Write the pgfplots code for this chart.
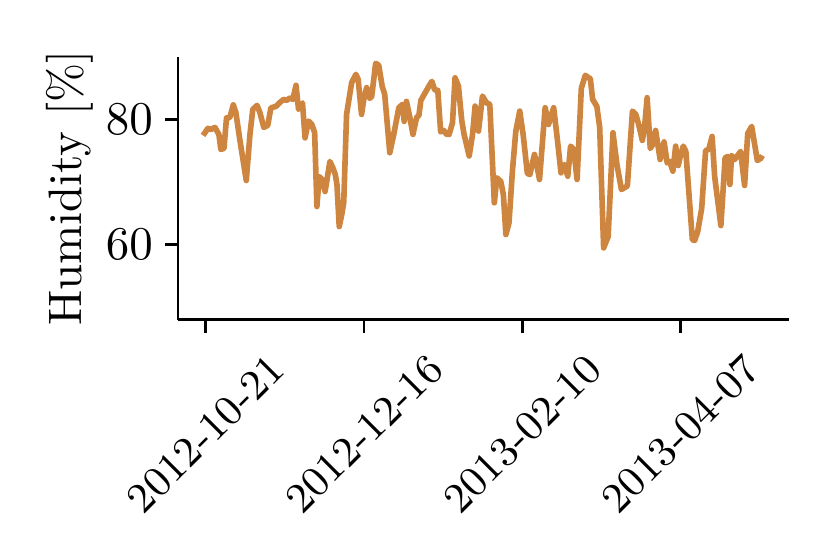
\documentclass[border=0pt]{standalone}
\usepackage{pgfplots}
\pgfplotsset{compat=1.18}
\definecolor{peru}{RGB}{205,133,63}
\begin{document}
\begin{tikzpicture}
\useasboundingbox (-37.9pt,-49.8pt) rectangle (138.9pt,68.1pt);
\begin{axis}[
  at={(0,0)}, anchor=south west, scale only axis,
  width=130.1pt, height=56pt,
  xmin=-9.9, xmax=206.3, ymin=48, ymax=90,
  axis x line*=bottom, axis y line*=left,
  axis line style={line width=0.6pt, -},
  tick align=outside, major tick length=2.8pt,
  tick style={line width=0.6pt, black},
  xtick={0,56,112,168},
  xticklabels={2012-10-21,2012-12-16,2013-02-10,2013-04-07},
  ytick={60,80},
  xticklabel style={font=\fontsize{9}{10}\selectfont, yshift=-21.5pt, rotate=45, anchor=center},
  yticklabel style={xshift=1pt},
  ylabel={Humidity [\%]},
  ylabel style={at={(axis description cs:-0.177,0.5)}, anchor=center},
  clip=false,
]
\addplot[peru, line width=1.2pt, line join=round] coordinates {
(-1.0,77.44) (0.7,78.56) (1.8,78.40) (3.2,78.72) (4.6,77.60) (5.3,75.20) (6.4,75.36)
(7.3,80.24) (8.5,80.32) (9.7,82.32) (10.6,81.12) (12.0,76.80) (14.3,70.24) (15.6,77.60)
(16.6,81.60) (18.1,82.24) (19.1,81.12) (20.5,78.72) (21.9,79.04) (23.0,81.84) (24.8,82.08)
(26.2,82.72) (27.6,83.20) (28.7,83.04) (29.7,83.44) (30.8,83.20) (31.9,85.44) (32.8,81.60)
(34.2,82.64) (35.1,77.04) (36.3,79.73) (37.5,79.20) (38.5,77.87) (39.3,66.08) (40.1,70.88)
(41.1,70.40) (42.2,68.48) (43.9,73.28) (44.9,72.32) (45.8,71.20) (46.4,69.60) (47.2,62.88)
(48.1,64.80) (48.8,66.72) (49.8,80.80) (51.6,85.87) (53.1,87.20) (53.9,86.40) (55.1,80.80)
(55.9,83.20) (56.9,85.07) (58.0,83.36) (58.7,83.68) (60.1,88.96) (61.2,88.64) (62.4,85.28)
(63.3,84.00) (65.1,74.67) (66.5,77.60) (68.3,81.87) (69.6,82.40) (70.2,79.68) (71.0,82.88)
(72.2,80.32) (73.3,77.60) (74.6,80.32) (75.4,80.64) (76.1,83.04) (77.9,84.48) (78.9,85.28)
(80.0,86.08) (81.0,84.72) (82.1,84.64) (83.1,78.00) (84.2,78.24) (85.2,77.60) (86.1,77.60)
(87.3,79.47) (88.2,86.64) (89.4,85.33) (90.6,79.73) (91.4,77.60) (93.2,74.16) (94.4,77.60)
(95.3,82.13) (96.5,78.13) (97.9,83.73) (99.3,82.67) (100.5,82.40) (102.1,66.67) (103.0,70.67)
(104.4,70.08) (105.3,68.00) (106.2,61.60) (107.3,63.47) (108.5,71.68) (109.7,78.08) (111.1,81.33)
(112.3,77.60) (113.8,71.36) (114.7,71.20) (116.3,74.40) (117.1,72.80) (118.1,70.40) (120.1,81.87)
(121.3,79.20) (123.1,81.87) (124.3,77.28) (125.7,71.47) (126.9,72.80) (128.1,70.93) (129.1,75.73)
(130.2,75.20) (131.4,70.40) (132.9,84.96) (134.3,87.04) (136.1,86.48) (136.9,83.20) (138.4,82.08)
(139.4,78.72) (140.8,59.47) (142.4,61.28) (144.1,77.87) (145.5,72.80) (147.1,68.80) (149.2,69.36)
(151.0,81.33) (152.2,80.80) (153.2,79.20) (154.5,76.64) (155.3,78.88) (156.2,83.47) (157.3,75.36)
(158.2,76.00) (159.2,78.24) (160.8,73.60) (162.2,76.40) (163.3,73.04) (164.2,73.28) (165.3,71.73)
(166.3,75.73) (167.2,72.64) (168.1,74.40) (169.0,75.73) (169.9,74.88) (172.2,60.80) (173.0,60.64)
(174.1,62.08) (175.5,65.76) (176.9,75.04) (178.0,75.20) (179.2,77.28) (180.1,70.88) (182.3,63.04)
(183.8,73.87) (184.7,74.08) (185.5,69.60) (186.1,74.24) (187.2,73.60) (188.5,74.40) (189.3,74.88)
(190.7,69.44) (191.8,77.76) (193.2,78.88) (195.2,73.44) (196.4,73.76) (197.0,74.24)
};
\end{axis}
\end{tikzpicture}
\end{document}
